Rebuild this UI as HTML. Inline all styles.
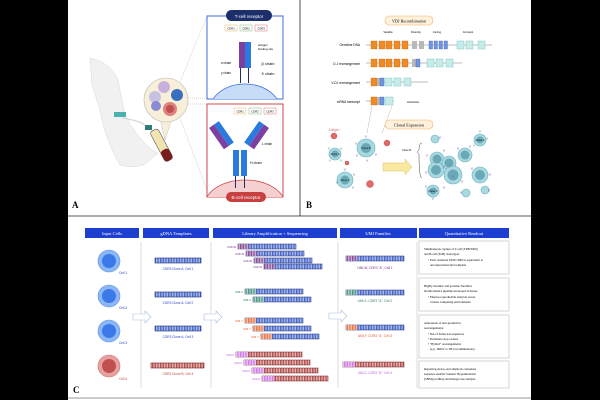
<!DOCTYPE html>
<html><head><meta charset="utf-8"><style>
html,body{margin:0;padding:0;background:#000;}
svg{display:block;font-family:"Liberation Serif",serif;}
.s{font-family:"Liberation Sans",sans-serif;}
</style></head><body>
<svg width="600" height="400" viewBox="0 0 600 400" xmlns="http://www.w3.org/2000/svg">
<defs>
<pattern id="pb" width="1.6" height="6" patternUnits="userSpaceOnUse"><rect width="1.6" height="6" fill="#b8ccf2"/><rect width="0.7" height="6" fill="#2a45b8"/></pattern>
<pattern id="pr" width="1.6" height="6" patternUnits="userSpaceOnUse"><rect width="1.6" height="6" fill="#f0c8c8"/><rect width="0.7" height="6" fill="#9a2a2a"/></pattern>
<pattern id="pp" width="1.6" height="6" patternUnits="userSpaceOnUse"><rect width="1.6" height="6" fill="#d8c0e0"/><rect width="0.7" height="6" fill="#6a2a7a"/></pattern>
<pattern id="pg" width="1.6" height="6" patternUnits="userSpaceOnUse"><rect width="1.6" height="6" fill="#c0e0d8"/><rect width="0.7" height="6" fill="#2a7a6a"/></pattern>
<pattern id="po" width="1.6" height="6" patternUnits="userSpaceOnUse"><rect width="1.6" height="6" fill="#fcd0b8"/><rect width="0.7" height="6" fill="#e05a20"/></pattern>
<pattern id="pv" width="1.6" height="6" patternUnits="userSpaceOnUse"><rect width="1.6" height="6" fill="#f0d0f8"/><rect width="0.7" height="6" fill="#c060e0"/></pattern>
</defs>
<rect x="68" y="0" width="463" height="400" fill="#fff"/>
<line x1="68" y1="216" x2="531" y2="216" stroke="#222" stroke-width="0.8"/>
<line x1="300" y1="0" x2="300" y2="216" stroke="#222" stroke-width="0.8"/>
<line x1="68" y1="398" x2="531" y2="398" stroke="#999" stroke-width="1"/>
<text x="72" y="208" font-size="9" font-weight="bold">A</text>
<text x="306" y="208" font-size="9" font-weight="bold">B</text>
<text x="73" y="393" font-size="9" font-weight="bold">C</text>

<!-- Panel A -->
<path d="M90 58 Q110 62 118 80 L125 115 Q135 135 152 150 L158 153 L150 160 Q140 170 120 165 Q105 140 100 110 L92 85 Z" fill="#f1f1f1" stroke="#d8d8d8" stroke-width="0.5"/>
<rect x="114" y="112" width="12" height="5" fill="#4bb0b0"/>
<path d="M122 118 Q135 120 142 123 L148 128" stroke="#cfd8dc" fill="none" stroke-width="1.2"/>
<rect x="145" y="125" width="7" height="5" fill="#2e7d7d"/>
<g transform="rotate(-28 162 145)"><rect x="157" y="128" width="9" height="34" rx="3" fill="#f0e4b0" stroke="#555" stroke-width="0.6"/><rect x="157" y="150" width="9" height="12" rx="3" fill="#7a1d1d"/></g>
<path d="M160 118 L165 140 L172 118 Z" fill="#f7efd8" stroke="#bbb" stroke-width="0.5"/>
<circle cx="166" cy="100" r="22" fill="#f7efd8" stroke="#bbb" stroke-width="0.6"/>
<circle cx="164" cy="87" r="6" fill="#c8b0dc"/><circle cx="155" cy="97" r="6" fill="#c8c0e0"/><circle cx="156" cy="106" r="5" fill="#8b8ad0"/>
<circle cx="177" cy="95" r="6" fill="#3a6fc0"/><circle cx="170" cy="109" r="7" fill="#e08080"/><circle cx="170" cy="109" r="4" fill="#c05050"/>
<line x1="188" y1="98" x2="207" y2="98" stroke="#aaa" stroke-dasharray="1,1" stroke-width="0.5"/>
<line x1="180" y1="82" x2="207" y2="16" stroke="#aaa" stroke-dasharray="1,1" stroke-width="0.5"/>
<line x1="180" y1="118" x2="207" y2="190" stroke="#aaa" stroke-dasharray="1,1" stroke-width="0.5"/>
<line x1="188" y1="104" x2="207" y2="104" stroke="#aaa" stroke-dasharray="1,1" stroke-width="0.5"/>
<rect x="207" y="16" width="76" height="83" fill="#fff" stroke="#3d6fe0" stroke-width="1"/>
<clipPath id="ct"><rect x="207" y="16" width="76" height="83"/></clipPath>
<ellipse cx="245" cy="110" rx="35" ry="26" fill="#c6dcf7" stroke="#3d6fe0" stroke-width="0.8" clip-path="url(#ct)"/>
<rect x="226" y="10" width="46" height="11" rx="5.5" fill="#1d2f6b"/>
<text x="249" y="18" font-size="4.5" fill="#fff" text-anchor="middle" class="s">T-cell receptor</text>
<rect x="225" y="25" width="12" height="6" fill="#fff" stroke="#e8b860" stroke-width="0.5"/><rect x="240" y="25" width="12" height="6" fill="#fff" stroke="#7cc07c" stroke-width="0.5"/><rect x="255" y="25" width="12" height="6" fill="#fff" stroke="#e07070" stroke-width="0.5"/>
<text x="231" y="29.5" font-size="2.8" text-anchor="middle" class="s">CDR1</text><text x="246" y="29.5" font-size="2.8" text-anchor="middle" class="s">CDR2</text><text x="261" y="29.5" font-size="2.8" text-anchor="middle" class="s">CDR3</text>
<rect x="239" y="42" width="6" height="26" fill="#7d3fa0"/><rect x="245" y="42" width="6" height="26" fill="#2a7ae0"/>
<rect x="240" y="68" width="1" height="15" fill="#1d2f6b"/><rect x="248" y="68" width="1" height="15" fill="#1d2f6b"/>
<text x="258" y="46" font-size="3" class="s">antigen</text><text x="258" y="50" font-size="3" class="s">binding site</text>
<text x="226" y="64" font-size="3.2" text-anchor="middle" class="s">α chain</text><text x="226" y="74" font-size="3.2" text-anchor="middle" class="s">γ chain</text>
<text x="268" y="65" font-size="4" text-anchor="middle" class="s">β chain</text><text x="268" y="75" font-size="4" text-anchor="middle" class="s">δ chain</text>
<rect x="207" y="104" width="76" height="93" fill="#fff" stroke="#d04848" stroke-width="1"/>
<clipPath id="cb"><rect x="207" y="104" width="76" height="93"/></clipPath>
<ellipse cx="245" cy="205" rx="40" ry="25" fill="#f6d0d0" stroke="#d04848" stroke-width="0.8" clip-path="url(#cb)"/>
<rect x="226" y="192" width="40" height="10" rx="5" fill="#c84040"/>
<text x="246" y="199" font-size="4.5" fill="#fff" text-anchor="middle" class="s">B-cell receptor</text>
<rect x="234" y="108" width="12" height="6" fill="#fff" stroke="#e8b860" stroke-width="0.5"/><rect x="249" y="108" width="12" height="6" fill="#fff" stroke="#7cc07c" stroke-width="0.5"/><rect x="264" y="108" width="12" height="6" fill="#fff" stroke="#e07070" stroke-width="0.5"/>
<text x="240" y="112.5" font-size="2.8" text-anchor="middle" class="s">CDR1</text><text x="255" y="112.5" font-size="2.8" text-anchor="middle" class="s">CDR2</text><text x="270" y="112.5" font-size="2.8" text-anchor="middle" class="s">CDR3</text>
<g transform="rotate(-35 222 136)"><rect x="216" y="122" width="6" height="26" fill="#7d3fa0"/><rect x="222" y="122" width="6" height="26" fill="#2a7ae0"/></g>
<g transform="rotate(35 256 136)"><rect x="250" y="122" width="6" height="26" fill="#2a7ae0"/><rect x="256" y="122" width="6" height="26" fill="#7d3fa0"/></g>
<rect x="233" y="150" width="6" height="26" fill="#2a7ae0"/><rect x="241" y="150" width="6" height="26" fill="#2a7ae0"/>
<rect x="235" y="176" width="1" height="12" fill="#1d2f6b"/><rect x="244" y="176" width="1" height="12" fill="#1d2f6b"/>
<text x="262" y="145" font-size="3.2" class="s">L chain</text><text x="250" y="164" font-size="3.5" class="s">H chain</text>

<!-- Panel B -->
<rect x="385" y="16" width="48" height="9" rx="4.5" fill="#fff1dc" stroke="#f0b060" stroke-width="0.6"/>
<text x="409" y="22.5" font-size="4.2" text-anchor="middle">VDJ Recombination</text>
<g class="s" font-size="3.2" text-anchor="end">
<text x="360" y="46">Germline DNA</text><text x="360" y="65">D-J rearrangement</text><text x="360" y="84">V-DJ rearrangement</text><text x="360" y="103">mRNA transcript</text></g>
<g class="s" font-size="2.6" text-anchor="middle"><text x="388" y="33">Variable</text><text x="416" y="33">Diversity</text><text x="437" y="33">Joining</text><text x="468" y="33">Constant</text></g>
<g stroke="#555" stroke-width="0.4"><line x1="366" y1="45" x2="492" y2="45"/><line x1="366" y1="63" x2="462" y2="63"/><line x1="366" y1="82" x2="428" y2="82"/><line x1="366" y1="101" x2="394" y2="101"/></g>
<g fill="#f08a24" stroke="#c06010" stroke-width="0.3">
<rect x="371" y="41" width="6" height="8"/><rect x="379" y="41" width="6" height="8"/><rect x="386" y="41" width="6" height="8"/><rect x="394" y="41" width="6" height="8"/><rect x="402" y="41" width="6" height="8"/>
<rect x="371" y="59" width="6" height="8"/><rect x="379" y="59" width="6" height="8"/><rect x="386" y="59" width="6" height="8"/><rect x="394" y="59" width="6" height="8"/><rect x="402" y="59" width="6" height="8"/>
<rect x="371" y="78" width="6" height="8"/><rect x="371" y="97" width="6" height="8"/></g>
<g fill="#b8b8b8"><rect x="412" y="41" width="5" height="8"/><rect x="419" y="41" width="5" height="8"/><rect x="412" y="59" width="4" height="8"/><rect x="377" y="78" width="3" height="8"/><rect x="377" y="97" width="3" height="8"/></g>
<g fill="#7096e0" stroke="#3050b0" stroke-width="0.3"><rect x="429" y="41" width="3.5" height="8"/><rect x="434" y="41" width="3.5" height="8"/><rect x="439" y="41" width="3.5" height="8"/><rect x="444" y="41" width="3.5" height="8"/><rect x="416" y="59" width="4" height="8"/><rect x="380" y="78" width="4" height="8"/><rect x="380" y="97" width="4" height="8"/></g>
<g fill="#c6ecea" stroke="#70c0bc" stroke-width="0.4"><rect x="457" y="41" width="7" height="8"/><rect x="466" y="41" width="7" height="8"/><rect x="478" y="41" width="7" height="8"/><rect x="427" y="59" width="7" height="8"/><rect x="436" y="59" width="7" height="8"/><rect x="446" y="59" width="7" height="8"/><rect x="385" y="78" width="7" height="8"/><rect x="394" y="78" width="7" height="8"/><rect x="404" y="78" width="7" height="8"/><rect x="385" y="97" width="8" height="8"/></g>
<text x="407" y="103" font-size="3" class="s">AAAAAA</text>
<line x1="372" y1="106" x2="367" y2="133" stroke="#aaa" stroke-width="0.4"/><line x1="392" y1="106" x2="382" y2="133" stroke="#aaa" stroke-width="0.4"/>
<rect x="385" y="120" width="48" height="9" rx="4.5" fill="#fff1dc" stroke="#f0b060" stroke-width="0.6"/>
<text x="409" y="126.5" font-size="4.2" text-anchor="middle">Clonal Expansion</text>
<text x="334" y="131" font-size="3.2" fill="#e07070" class="s" text-anchor="middle">Antigen</text>
<g fill="#e06868" stroke="#c04040" stroke-width="0.4"><circle cx="334" cy="136" r="3"/><circle cx="347" cy="163" r="2"/><circle cx="370" cy="184" r="3.5"/><circle cx="387" cy="143" r="3"/></g>
<g fill="#a8d8e0" stroke="#6ab0c0" stroke-width="0.6">
<circle cx="366" cy="148" r="9"/><circle cx="335" cy="154" r="6"/><circle cx="345" cy="180" r="8"/>
<circle cx="435" cy="139" r="4"/><circle cx="480" cy="140" r="6"/><circle cx="437" cy="159" r="7"/><circle cx="449" cy="163" r="7"/><circle cx="465" cy="155" r="7"/><circle cx="436" cy="170" r="8"/><circle cx="453" cy="175" r="9"/><circle cx="480" cy="175" r="8"/><circle cx="433" cy="191" r="6"/><circle cx="466" cy="193" r="4"/><circle cx="485" cy="190" r="4"/></g>
<g fill="#6aa8b8"><circle cx="366" cy="148" r="5"/><circle cx="335" cy="154" r="3.5"/><circle cx="345" cy="180" r="4.5"/><circle cx="480" cy="140" r="3.5"/><circle cx="437" cy="159" r="4.5"/><circle cx="449" cy="163" r="4.5"/><circle cx="465" cy="155" r="4.5"/><circle cx="436" cy="170" r="5"/><circle cx="453" cy="175" r="5.5"/><circle cx="480" cy="175" r="5"/><circle cx="433" cy="191" r="3.5"/></g>
<g font-size="4" class="s" fill="#8a4fb0" text-anchor="middle">
<text x="366" y="138">Y</text><text x="356" y="145">Y</text><text x="376" y="156">Y</text><text x="357" y="157">Y</text><text x="367" y="162">Y</text>
<text x="427" y="157">Y</text><text x="444" y="152">Y</text><text x="458" y="150">Y</text><text x="470" y="148">Y</text><text x="426" y="174">Y</text><text x="444" y="168">Y</text><text x="462" y="183">Y</text><text x="472" y="170">Y</text><text x="490" y="176">Y</text><text x="444" y="189">Y</text><text x="453" y="178">Y</text><text x="440" y="139">Y</text><text x="461" y="194">Y</text><text x="489" y="192">Y</text>
</g>
<g font-size="4" class="s" fill="#4aa060" text-anchor="middle"><text x="329" y="150">Y</text><text x="341" y="150">Y</text><text x="330" y="162">Y</text><text x="341" y="162">Y</text><text x="480" y="133">Y</text><text x="487" y="140">Y</text><text x="474" y="147">Y</text></g>
<g font-size="4" class="s" fill="#3a7ac0" text-anchor="middle"><text x="345" y="171">Y</text><text x="354" y="176">Y</text><text x="337" y="184">Y</text><text x="353" y="189">Y</text><text x="426" y="188">Y</text><text x="433" y="200">Y</text></g>
<g font-size="2.5" class="s" text-anchor="middle"><text x="366" y="149">Clone B</text><text x="335" y="155">Clone A</text><text x="345" y="181">Clone C</text><text x="480" y="141">Clone A</text><text x="433" y="192">Clone C</text><text x="411" y="151" text-anchor="end">Clone B</text></g>
<path d="M383 163 L405 163 L405 159 L412 167 L405 175 L405 171 L383 171 Z" fill="#f8e8a0" stroke="#e0c060" stroke-width="0.5"/>
<path d="M422 143 Q419 143 419 150 L417 152 L419 154 Q419 178 422 178" fill="none" stroke="#444" stroke-width="0.5"/>

<!-- Panel C -->
<g fill="#1c3fcf"><rect x="85" y="228" width="54" height="10"/><rect x="143" y="228" width="66" height="10"/><rect x="213" y="228" width="124" height="10"/><rect x="340" y="228" width="77" height="10"/><rect x="419" y="228" width="90" height="10"/></g>
<g fill="#fff" font-size="4.5" text-anchor="middle"><text x="112" y="234.8">Input Cells</text><text x="176" y="234.8">gDNA Templates</text><text x="275" y="234.8">Library Amplification + Sequencing</text><text x="378" y="234.8">UMI Families</text><text x="464" y="234.8">Quantitative Readout</text></g>
<g stroke="#ddd" stroke-width="1"><line x1="141" y1="242" x2="141" y2="388"/><line x1="211" y1="242" x2="211" y2="388"/><line x1="338" y1="242" x2="338" y2="388"/><line x1="417" y1="242" x2="417" y2="388"/></g>
<g><circle cx="109" cy="261" r="11" fill="#8cb6f5" stroke="#5d93e8" stroke-width="0.6"/><circle cx="109" cy="261" r="7" fill="#3a7ae8"/>
<circle cx="109" cy="296" r="11" fill="#8cb6f5" stroke="#5d93e8" stroke-width="0.6"/><circle cx="109" cy="296" r="7" fill="#3a7ae8"/>
<circle cx="109" cy="331" r="11" fill="#8cb6f5" stroke="#5d93e8" stroke-width="0.6"/><circle cx="109" cy="331" r="7" fill="#3a7ae8"/>
<circle cx="109" cy="366" r="11" fill="#e8a0a0" stroke="#c87070" stroke-width="0.6"/><circle cx="109" cy="366" r="7" fill="#c05050"/></g>
<g font-size="3.2" class="s" fill="#1c3fcf"><text x="119" y="274">Cell 1</text><text x="119" y="309">Cell 2</text><text x="119" y="344">Cell 3</text><text x="119" y="380" fill="#c04040">Cell 4</text></g>
<g fill="#fff" stroke="#a8bde0" stroke-width="0.6"><path d="M133 314 L145 314 L145 311 L151 317 L145 323 L145 320 L133 320 Z"/><path d="M204 314 L216 314 L216 311 L222 317 L216 323 L216 320 L204 320 Z"/><path d="M329 313 L341 313 L341 310 L347 316 L341 322 L341 319 L329 319 Z"/></g>
<g stroke="#1d2f7b" stroke-width="0.6"><rect x="155" y="258" width="46" height="5" fill="url(#pb)"/><rect x="155" y="292" width="46" height="5" fill="url(#pb)"/><rect x="155" y="326" width="46" height="5" fill="url(#pb)"/></g>
<rect x="151" y="363" width="53" height="5" fill="url(#pr)" stroke="#7a1a1a" stroke-width="0.6"/>
<g font-size="3.2" class="s" text-anchor="middle" fill="#1c3fcf"><text x="178" y="270">CDR3 Clone A, Cell 1</text><text x="178" y="304">CDR3 Clone A, Cell 2</text><text x="178" y="338">CDR3 Clone A, Cell 3</text><text x="178" y="375" fill="#c04040">CDR3 Clone B, Cell 4</text></g>
<g stroke="#1d2f7b" stroke-width="0.5">
<rect x="238" y="244" width="58" height="5" fill="url(#pb)"/><rect x="246" y="251" width="58" height="5" fill="url(#pb)"/><rect x="254" y="258" width="58" height="5" fill="url(#pb)"/><rect x="264" y="264" width="58" height="5" fill="url(#pb)"/>
<rect x="245" y="289" width="58" height="5" fill="url(#pb)"/><rect x="253" y="297" width="58" height="5" fill="url(#pb)"/>
<rect x="245" y="318" width="58" height="5" fill="url(#pb)"/><rect x="253" y="326" width="58" height="5" fill="url(#pb)"/><rect x="261" y="334" width="58" height="5" fill="url(#pb)"/>
<rect x="346" y="256" width="58" height="5" fill="url(#pb)"/><rect x="346" y="290" width="58" height="5" fill="url(#pb)"/><rect x="346" y="325" width="58" height="5" fill="url(#pb)"/></g>
<g stroke="#7a1a1a" stroke-width="0.5"><rect x="236" y="352" width="66" height="5" fill="url(#pr)"/><rect x="244" y="360" width="66" height="5" fill="url(#pr)"/><rect x="252" y="368" width="66" height="5" fill="url(#pr)"/><rect x="262" y="376" width="66" height="5" fill="url(#pr)"/><rect x="343" y="362" width="61" height="5" fill="url(#pr)"/></g>
<g>
<rect x="238" y="244" width="11" height="5" fill="url(#pp)"/><rect x="246" y="251" width="11" height="5" fill="url(#pp)"/><rect x="254" y="258" width="11" height="5" fill="url(#pp)"/><rect x="264" y="264" width="11" height="5" fill="url(#pp)"/><rect x="346" y="256" width="11" height="5" fill="url(#pp)"/>
<rect x="245" y="289" width="11" height="5" fill="url(#pg)"/><rect x="253" y="297" width="11" height="5" fill="url(#pg)"/><rect x="346" y="290" width="11" height="5" fill="url(#pg)"/>
<rect x="245" y="318" width="11" height="5" fill="url(#po)"/><rect x="253" y="326" width="11" height="5" fill="url(#po)"/><rect x="261" y="334" width="11" height="5" fill="url(#po)"/><rect x="346" y="325" width="11" height="5" fill="url(#po)"/>
<rect x="236" y="352" width="12" height="5" fill="url(#pv)"/><rect x="244" y="360" width="12" height="5" fill="url(#pv)"/><rect x="252" y="368" width="12" height="5" fill="url(#pv)"/><rect x="262" y="376" width="12" height="5" fill="url(#pv)"/><rect x="343" y="362" width="12" height="5" fill="url(#pv)"/></g>
<g font-size="2.8" class="s" text-anchor="end">
<g fill="#7a2a8a"><text x="236" y="248">UMI-W</text><text x="244" y="255">UMI-W</text><text x="252" y="262">UMI-W</text><text x="262" y="268">UMI-W</text></g>
<g fill="#2a7a6a"><text x="243" y="293">UMI-X</text><text x="251" y="301">UMI-X</text></g>
<g fill="#e05a20"><text x="243" y="322">UMI-Y</text><text x="251" y="330">UMI-Y</text><text x="259" y="338">UMI-Y</text></g>
<g fill="#c060e0"><text x="234" y="356">UMI-Z</text><text x="242" y="364">UMI-Z</text><text x="250" y="372">UMI-Z</text><text x="260" y="380">UMI-Z</text></g></g>
<g font-size="3.2" class="s" text-anchor="middle"><text x="375" y="269" fill="#7a2a8a">UMI-W, CDR3 "A", Cell 1</text><text x="375" y="302" fill="#2a7a6a">UMI-X, CDR3 "A", Cell 2</text><text x="375" y="337" fill="#e05a20">UMI-Y, CDR3 "A", Cell 3</text><text x="375" y="374" fill="#c060e0">UMI-Z, CDR3 "B", Cell 4</text></g>
<g fill="#fff" stroke="#ccc" stroke-width="0.8"><rect x="419" y="241" width="90" height="33"/><rect x="419" y="278" width="90" height="33"/><rect x="419" y="315" width="90" height="43"/><rect x="419" y="361" width="90" height="27"/></g>
<g font-size="3.1">
<text x="424" y="250">Simultaneous capture of T-cell (TRB/TRD)</text><text x="424" y="255">and B-cell (IGH) clonotypes</text><text x="428" y="261">• Each clustered UMI CDR3 is equivalent to</text><text x="430" y="266">one input molecular template</text>
<text x="424" y="287">Highly modular and portable Nextflow</text><text x="424" y="292">bioinformatics pipeline developed in house</text><text x="428" y="298">• Ensures reproducible analysis across</text><text x="430" y="303">various computing environments</text>
<text x="424" y="324">Annotation of non-productive</text><text x="424" y="329">rearrangements:</text><text x="428" y="335">• Out of frame AA sequences</text><text x="428" y="340">• Premature stop codons</text><text x="428" y="345">• "Hybrid" rearrangements</text><text x="430" y="350">(e.g. TRDV to TRJ recombinations)</text>
<text x="424" y="370">Reporting end-to-end amplicon consensus</text><text x="424" y="375">sequence enables Somatic Hypermutation</text><text x="424" y="380">(SHM) profiling and lineage tree analysis</text></g>
</svg>
</body></html>
